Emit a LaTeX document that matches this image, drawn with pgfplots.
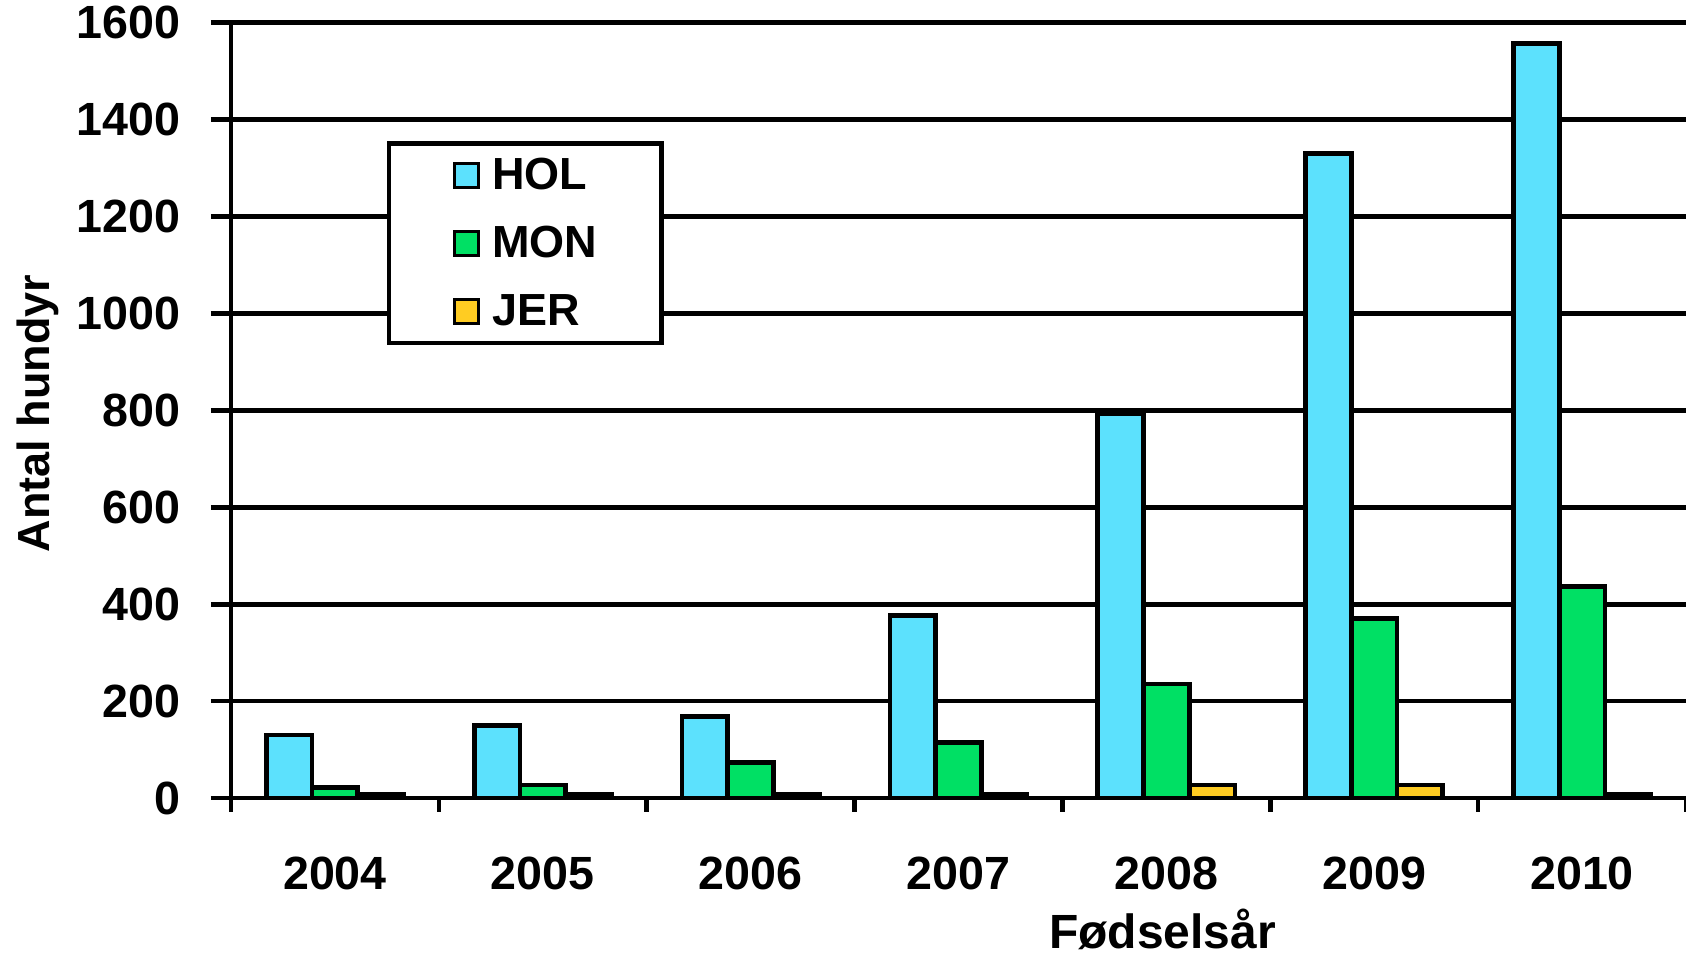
\documentclass[border=0pt]{standalone}
\usepackage{pgfplots}
\pgfplotsset{compat=1.18}
\usepackage{pgfplotstable}
\usepackage{fontspec}
\setmainfont{Liberation Sans}

\definecolor{holblue}{HTML}{5CE1FD}
\definecolor{mongreen}{HTML}{00E064}
\definecolor{jeryellow}{HTML}{FFCC22}
\newcommand{\lblfont}{\fontsize{22.5}{27}\selectfont\bfseries}
\newcommand{\tckfont}{\fontsize{23.3}{28}\selectfont\bfseries}

% Number of heifers per birth year and breed (x = year index, 0 = 2004)
\pgfplotstableread{
x HOL MON JER
0 130 21 7
1 150 27 7
2 168 73 7
3 376 115 7
4 793 235 27
5 1330 371 27
6 1557 436 7
}\births

\begin{document}
\begin{tikzpicture}
\path[use as bounding box] (0,0) rectangle (843pt,478.5pt);
\begin{axis}[
  at={(115.5pt,79.5pt)}, anchor=south west,
  scale only axis, width=727.5pt, height=387.65pt,
  xmin=-0.5, xmax=6.5, ymin=0, ymax=1600,
  axis x line=bottom, axis y line=left,
  axis line style={-, line width=2.35pt, black},
  ybar=0pt, bar width=0.22,
  xtick={0,...,6}, xticklabels={2004,2005,2006,2007,2008,2009,2010},
  major x tick style={draw=none},
  minor xtick={-0.5,0.5,...,6.5},
  minor tick length=7pt,
  ytick={0,200,...,1600},
  major tick length=10pt,
  tick align=outside,
  tick style={black, line width=2.35pt},
  ymajorgrids, grid style={black, line width=2.35pt},
  tick label style={font=\tckfont},
  /pgf/number format/assume math mode=true,
  /pgf/number format/1000 sep={},
  yticklabel style={anchor=east, inner sep=0pt, xshift=-15pt},
  xticklabel style={anchor=base, inner sep=0pt, yshift=-36pt},
  xlabel={Fødselsår},
  xlabel style={font=\fontsize{24}{28}\selectfont\bfseries, at={(axis description cs:0.6402,-0.1935)}, anchor=base},
  ylabel={Antal hundyr},
  ylabel style={font=\lblfont, at={(axis description cs:-0.1244,0.4959)}, anchor=base, rotate=0},
  legend style={
    at={(axis description cs:0.1086,0.8443)}, anchor=north west,
    draw=black, line width=2.35pt, fill=white, outer sep=0pt,
    inner xsep=32.2pt, inner ysep=7.5pt,
    row sep=16.7pt, column sep=6pt,
    font=\lblfont,
    nodes={inner sep=0pt},
  },
  legend cell align=left,
  legend image code/.code={\draw[#1, line width=1.5pt] (0pt,-6pt) rectangle (12pt,6pt);},
]
\addplot[fill=holblue, draw=black, line width=2.35pt] table[x=x, y=HOL] {\births};
\addlegendentry{HOL}
\addplot[fill=mongreen, draw=black, line width=2.35pt] table[x=x, y=MON] {\births};
\addlegendentry{MON}
\addplot[fill=jeryellow, draw=black, line width=2.35pt] table[x=x, y=JER] {\births};
\addlegendentry{JER}
\end{axis}
\end{tikzpicture}
\end{document}
